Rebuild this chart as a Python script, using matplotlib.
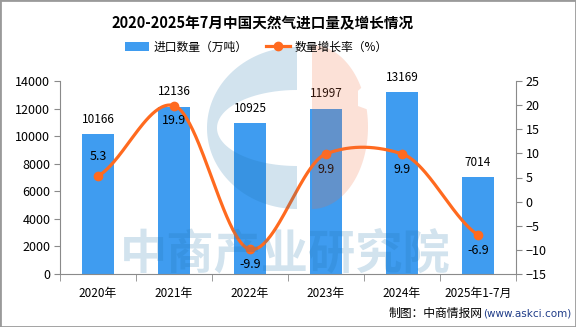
import numpy as np
import matplotlib
matplotlib.use('Agg')
import matplotlib.pyplot as plt
from matplotlib.path import Path
from matplotlib.patches import PathPatch, Rectangle

plt.rcParams['font.family'] = ['Noto Sans CJK SC', 'DejaVu Sans']
plt.rcParams['axes.unicode_minus'] = True

# 数据
years = ['2020年', '2021年', '2022年', '2023年', '2024年', '2025年1-7月']
import_vol = [10166, 12136, 10925, 11997, 13169, 7014]   # 进口数量（万吨）
growth = [5.3, 19.9, -9.9, 9.9, 9.9, -6.9]               # 数量增长率（%）

BAR = '#3F9CF0'
LINE = '#FF6A1F'
AXC = '#8a8a8a'


def smooth_curve(y, n=50, s=0.6):
    # 平滑折线（Hermite 插值，切线取相邻点差）
    y = np.asarray(y, float)
    m = np.zeros(len(y))
    m[1:-1] = (y[2:] - y[:-2]) / 2
    m[0] = y[1] - y[0]
    m[-1] = y[-1] - y[-2]
    m *= s
    t = np.linspace(0, 1, n)
    h00 = 2 * t**3 - 3 * t**2 + 1
    h10 = t**3 - 2 * t**2 + t
    h01 = -2 * t**3 + 3 * t**2
    h11 = t**3 - t**2
    xs, ys = [], []
    for i in range(len(y) - 1):
        xs.append(i + t)
        ys.append(h00 * y[i] + h10 * m[i] + h01 * y[i + 1] + h11 * m[i + 1])
    return np.concatenate(xs), np.concatenate(ys)


fig = plt.figure(figsize=(5.76, 3.27), dpi=100)
ax = fig.add_axes([60 / 576, 53 / 327, 456 / 576, 193 / 327])
x = np.arange(len(years))

bars = ax.bar(x, import_vol, width=0.41, color=BAR, zorder=2, label='进口数量（万吨）')
for xi, v in zip(x, import_vol):
    ax.annotate(str(v), (xi, v), xytext=(0, 6), textcoords='offset points',
                ha='center', va='bottom', fontsize=8.5)

ax.set_xlim(-0.5, len(years) - 0.5)
ax.set_ylim(0, 14000)
ax.set_yticks(np.arange(0, 14001, 2000))
ax.set_xticks(x)
ax.set_xticklabels(years)
ax.set_xticks(np.arange(-0.5, len(years), 1), minor=True)
ax.tick_params(axis='x', which='major', length=0, pad=9, labelsize=8.5)
ax.tick_params(axis='x', which='minor', length=5, color=AXC)
ax.tick_params(axis='y', length=4, color=AXC, labelsize=9, pad=3)
for side in ['top', 'right']:
    ax.spines[side].set_visible(False)
for side in ['left', 'bottom']:
    ax.spines[side].set_color(AXC)

ax2 = ax.twinx()
ax2.set_ylim(-15, 25)
ax2.set_yticks(np.arange(-15, 26, 5))
ax2.tick_params(axis='y', length=4, color=AXC, labelsize=9, pad=3)
for side in ['top', 'left', 'bottom']:
    ax2.spines[side].set_visible(False)
ax2.spines['right'].set_color(AXC)

cx, cy = smooth_curve(growth)
ax2.plot(cx, cy, color=LINE, lw=2.3, solid_capstyle='round', zorder=3)
ax2.plot(x, growth, 'o', color=LINE, ms=6, zorder=4)
line_handle, = ax2.plot([], [], color=LINE, lw=2.3, marker='o', ms=6)

label_up = [True, False, False, False, False, False]
for xi, g, up in zip(x, growth, label_up):
    ax2.annotate(f'{g:.1f}', (xi, g), xytext=(0, 14 if up else -11),
                 textcoords='offset points', ha='center', va='center', fontsize=9)

fig.text(0.455, 1 - 23 / 327, '2020-2025年7月中国天然气进口量及增长情况',
         ha='center', va='center', fontsize=10.5, fontweight='bold')
fig.legend([bars, line_handle], ['进口数量（万吨）', '数量增长率（%）'],
           loc='center', bbox_to_anchor=(0.445, 1 - 47 / 327), ncol=2, frameon=False,
           fontsize=8.5, handlelength=2.0, handletextpad=0.4, columnspacing=1.6)

fig.text(483 / 576, 1 - 313 / 327, '制图：中商情报网', ha='right', va='center', fontsize=8.5)
fig.text(483 / 576, 1 - 313 / 327, '(www.askci.com)', ha='left', va='center',
         fontsize=7.5, color='#1F3C88', family='DejaVu Sans')

# 水印图层（像素坐标）
ov = fig.add_axes([0, 0, 1, 1], zorder=5)
ov.set_xlim(0, 576)
ov.set_ylim(327, 0)
ov.axis('off')
ov.patch.set_alpha(0)

a = np.linspace(np.pi / 2, 3 * np.pi / 2, 80)
outer = np.column_stack([297 + 90 * np.cos(a), 128 - 81 * np.sin(a)])
inner = np.column_stack([297 + 80 * np.cos(a[::-1]), 128 - 38 * np.sin(a[::-1])])
c_shape = np.vstack([outer, inner, outer[:1]])
ov.add_patch(PathPatch(Path(c_shape), facecolor='#1E73AA', edgecolor='none', alpha=0.2))

b = np.linspace(np.pi / 2, -np.pi / 2, 80)
half = np.column_stack([312 + 56 * np.cos(b), 127 - 82 * np.sin(b)])
notch = (half[:, 1] > 90) & (half[:, 1] < 108)
half[notch, 0] = np.minimum(half[notch, 0], 358)
ov.add_patch(PathPatch(Path(np.vstack([half, half[:1]])), facecolor='#F06A3A',
                       edgecolor='none', alpha=0.2))

ov.text(285, 254, '中商产业研究院', fontsize=34, fontweight='bold', color='#1E73AA',
        alpha=0.2, ha='center', va='center')

fig.add_artist(Rectangle((0, 0), 1, 1, transform=fig.transFigure, fill=False,
                         edgecolor='#9a9a9a', lw=2))

fig.savefig('out.png', dpi=100)
